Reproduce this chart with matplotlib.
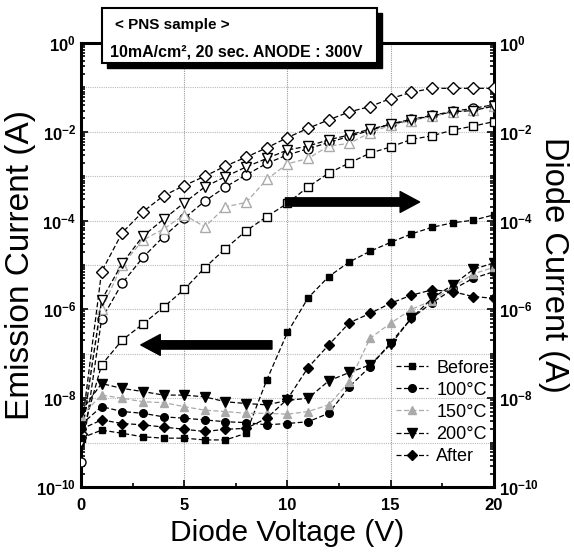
import matplotlib
matplotlib.use("Agg")
import matplotlib.pyplot as plt
import numpy as np
from matplotlib.patches import Rectangle
from matplotlib.ticker import FixedLocator, FixedFormatter, NullFormatter

plt.rcParams.update({
    "font.family": ["Liberation Sans", "DejaVu Sans"],
    "mathtext.fontset": "custom",
    "mathtext.rm": "Liberation Sans:bold",
    "mathtext.bf": "Liberation Sans:bold",
    "mathtext.default": "bf",
})

# diode voltage (V)
voltage = list(range(21))

# emission current, log10(A), open markers
em_before = [-8.9, -7.25, -6.69, -6.33, -5.95, -5.55, -5.06, -4.63, -4.23, -3.91, -3.61,
             -3.24, -2.93, -2.70, -2.48, -2.34, -2.17, -2.09, -1.96, -1.87, -1.77]
em_100 = [-9.43, -6.22, -5.41, -4.83, -4.36, -3.95, -3.56, -3.24, -2.97, -2.71, -2.52,
          -2.38, -2.24, -2.10, -1.97, -1.82, -1.72, -1.63, -1.54, -1.47, -1.39]
em_150 = [-8.64, -6.0, -5.0, -4.44, -4.19, -3.87, -4.14, -3.69, -3.59, -3.07, -2.72,
          -2.60, -2.32, -2.26, -2.02, -1.85, -1.75, -1.65, -1.56, -1.50, -1.42]
em_200 = [-8.98, -5.79, -4.96, -4.35, -3.97, -3.60, -3.24, -3.01, -2.79, -2.60, -2.41,
          -2.32, -2.18, -2.07, -1.94, -1.83, -1.73, -1.64, -1.55, -1.52, -1.42]
em_after = [-8.8, -5.15, -4.27, -3.80, -3.44, -3.21, -3.00, -2.77, -2.57, -2.36, -2.13,
            -1.92, -1.73, -1.55, -1.43, -1.25, -1.11, -1.02, -1.02, -1.02, -1.02]

# diode current, log10(A), filled markers
di_before = [-8.9, -8.72, -8.79, -8.87, -8.90, -8.90, -8.94, -8.94, -8.79, -7.59, -6.52,
             -5.74, -5.26, -4.93, -4.69, -4.49, -4.30, -4.15, -4.05, -3.99, -3.87]
di_100 = [-8.6, -8.19, -8.30, -8.34, -8.42, -8.45, -8.49, -8.53, -8.55, -8.60, -8.57,
          -8.53, -8.34, -7.74, -7.29, -6.75, -6.20, -5.85, -5.55, -5.30, -5.15]
di_150 = [-8.4, -7.93, -8.00, -8.08, -8.10, -8.19, -8.27, -8.30, -8.34, -8.34, -8.36,
          -8.30, -8.15, -7.63, -6.65, -6.31, -6.00, -5.80, -5.50, -5.20, -5.05]
di_200 = [-8.3, -7.67, -7.78, -7.85, -7.93, -7.93, -7.97, -8.08, -8.12, -8.15, -8.05,
          -8.00, -7.61, -7.42, -7.25, -6.79, -6.20, -5.75, -5.45, -5.10, -4.95]
di_after = [-8.7, -8.49, -8.57, -8.60, -8.65, -8.70, -8.75, -8.70, -8.68, -8.45, -8.02,
            -7.31, -6.80, -6.30, -6.09, -5.86, -5.68, -5.56, -5.60, -5.71, -5.75]

labels = ["Before", "100\u00b0C", "150\u00b0C", "200\u00b0C", "After"]
markers = ["s", "o", "^", "v", "D"]
msizes = [5, 5.5, 6, 6.5, 5.5]
colors = ["black", "black", "#aaaaaa", "black", "black"]
emission = [em_before, em_100, em_150, em_200, em_after]
diode = [di_before, di_100, di_150, di_200, di_after]

fig = plt.figure(figsize=(5.74, 5.57), dpi=100)
ax = fig.add_axes([0.141, 0.1257, 0.7195, 0.797])
ax2 = ax.twinx()

x = np.array(voltage)
for i in range(5):
    ax.plot(x, 10.0 ** np.array(emission[i]), linestyle=(0, (4, 2)), linewidth=0.9,
            color=colors[i], marker=markers[i], ms=msizes[i] + 1,
            mfc="white", mec=colors[i] if i == 2 else "black", mew=1.0, zorder=3)
handles = []
for i in range(5):
    h, = ax.plot(x, 10.0 ** np.array(diode[i]), linestyle=(0, (4, 2)), linewidth=0.9,
                 color=colors[i], marker=markers[i], ms=msizes[i],
                 mfc=colors[i], mec=colors[i], mew=1.0, zorder=4, label=labels[i])
    handles.append(h)

ax.set_yscale("log")
ax.set_xlim(0, 20)
ax.set_ylim(1e-10, 1)

ax.xaxis.set_major_locator(FixedLocator([0, 5, 10, 15, 20]))
ax.xaxis.set_minor_locator(FixedLocator([2.5, 7.5, 12.5, 17.5]))
ax.set_xticklabels(["0", "5", "10", "15", "20"], fontweight="bold", fontsize=12)

ymaj = [10.0 ** k for k in range(-10, 1, 2)]
ylab = [r"$10^{%d}$" % k for k in range(-10, 1, 2)]
yminor = []
for k in range(-10, 0):
    for m in range(2, 10):
        yminor.append(m * 10.0 ** k)
    if k % 2 != 0:
        yminor.append(10.0 ** k)
ax.yaxis.set_major_locator(FixedLocator(ymaj))
ax.yaxis.set_major_formatter(FixedFormatter(ylab))
ax.yaxis.set_minor_locator(FixedLocator(yminor))
ax.yaxis.set_minor_formatter(NullFormatter())

ax.tick_params(which="both", direction="in", left=True, right=True, top=False,
               labelleft=True, labelright=True, labelsize=12, width=1.2)
ax.tick_params(which="major", length=5)
ax.tick_params(which="minor", length=3)
ax.tick_params(axis="x", which="major", pad=8)
for s in ax.spines.values():
    s.set_linewidth(2.2)

# decade grid + voltage grid
for k in range(-9, 0):
    ax.axhline(10.0 ** k, color="#bbbbbb", linestyle=(0, (1, 1)), linewidth=0.8, zorder=1)
for v in [5, 10, 15]:
    ax.axvline(v, color="#999999", linestyle=(0, (1, 1)), linewidth=0.8, zorder=1)

ax.set_xlabel("Diode Voltage (V)", fontsize=21.5, labelpad=4)
ax.set_ylabel("Emission Current (A)", fontsize=24, labelpad=0)
ax2.set_yticks([])
ax2.set_ylabel("Diode Current (A)", fontsize=23.5, rotation=270, labelpad=54)
for s in ax2.spines.values():
    s.set_visible(False)

ax.legend(handles=handles, loc="upper left", bbox_to_anchor=(0.745, 0.303), frameon=False,
          fontsize=13, handlelength=1.8, handletextpad=0.45, labelspacing=0.28,
          borderaxespad=0.0)

# direction arrows
ax.annotate("", xy=(2.9, 10 ** -6.8), xytext=(9.25, 10 ** -6.8),
            arrowprops=dict(facecolor="black", edgecolor="black", width=6, headwidth=15,
                            headlength=14, shrink=0), zorder=5)
ax.annotate("", xy=(16.4, 10 ** -3.58), xytext=(9.9, 10 ** -3.58),
            arrowprops=dict(facecolor="black", edgecolor="black", width=6, headwidth=15,
                            headlength=14, shrink=0), zorder=5)

# sample description box with shadow
bx, by, bw, bh = 102 / 574, 1 - 63 / 557, 275 / 574, 55 / 557
fig.patches.append(Rectangle((bx + 5 / 574, by - 5 / 557), bw, bh, transform=fig.transFigure,
                             facecolor="black", edgecolor="black", zorder=10))
fig.patches.append(Rectangle((bx, by), bw, bh, transform=fig.transFigure,
                             facecolor="white", edgecolor="black", linewidth=1.5, zorder=11))
fig.text(115 / 574, 1 - 25 / 557, "< PNS sample >", fontsize=11, fontweight="bold",
         va="center", ha="left", zorder=12)
fig.text(110 / 574, 1 - 52 / 557, "10mA/cm\u00b2, 20 sec. ANODE : 300V", fontsize=11.5,
         fontweight="bold", va="center", ha="left", zorder=12)

fig.savefig("out.png", dpi=100)
